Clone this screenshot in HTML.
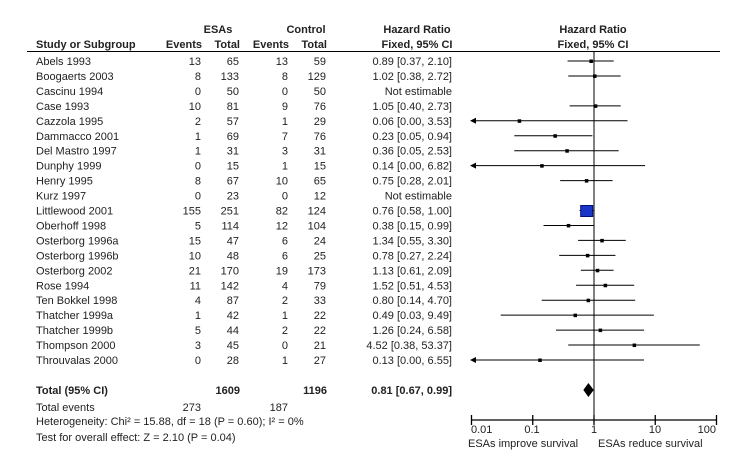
<!DOCTYPE html>
<html><head><style>
body{margin:0;background:#fff;}
svg text{font-family:"Liberation Sans",Arial,sans-serif;font-size:11px;fill:#222;}
</style></head><body>
<svg width="740" height="470" xmlns="http://www.w3.org/2000/svg" id="s">
<text x="218" y="33" text-anchor="middle" font-weight="bold">ESAs</text>
<text x="306" y="33" text-anchor="middle" font-weight="bold">Control</text>
<text x="417" y="33" text-anchor="middle" font-weight="bold">Hazard  Ratio</text>
<text x="593" y="33" text-anchor="middle" font-weight="bold">Hazard Ratio</text>
<text x="36" y="48" font-weight="bold">Study or Subgroup</text>
<text x="202" y="48" text-anchor="end" font-weight="bold">Events</text>
<text x="240" y="48" text-anchor="end" font-weight="bold">Total</text>
<text x="289" y="48" text-anchor="end" font-weight="bold">Events</text>
<text x="327" y="48" text-anchor="end" font-weight="bold">Total</text>
<text x="417" y="48" text-anchor="middle" font-weight="bold">Fixed, 95% CI</text>
<text x="593" y="48" text-anchor="middle" font-weight="bold">Fixed, 95% CI</text>
<line x1="27" y1="51.5" x2="720" y2="51.5" stroke="#000" stroke-width="1"/>
<line x1="594" y1="52" x2="594" y2="420" stroke="#000" stroke-width="1"/>
<g id="rows"></g>
<text x="36" y="394" font-weight="bold">Total (95% CI)</text>
<text x="240" y="394" text-anchor="end" font-weight="bold">1609</text>
<text x="327" y="394" text-anchor="end" font-weight="bold">1196</text>
<text x="452" y="394" text-anchor="end" font-weight="bold">0.81 [0.67, 0.99]</text>
<text x="36" y="411">Total events</text>
<text x="201" y="411" text-anchor="end">273</text>
<text x="288" y="411" text-anchor="end">187</text>
<text x="36" y="425">Heterogeneity: Chi² = 15.88, df = 18 (P = 0.60); I² = 0%</text>
<text x="36" y="441">Test for overall effect: Z = 2.10 (P = 0.04)</text>
<text x="471" y="433" text-anchor="start">0.01</text>
<text x="532" y="433" text-anchor="middle">0.1</text>
<text x="594" y="433" text-anchor="middle">1</text>
<text x="655" y="433" text-anchor="middle">10</text>
<text x="716" y="433" text-anchor="end">100</text>
<text x="468" y="447" fill="#444">ESAs improve survival</text>
<text x="598" y="447" fill="#444">ESAs reduce survival</text>
</svg>
<script>
var d=[["Abels 1993",13,65,13,59,0.89,0.37,2.10],["Boogaerts 2003",8,133,8,129,1.02,0.38,2.72],["Cascinu 1994",0,50,0,50],["Case 1993",10,81,9,76,1.05,0.40,2.73],["Cazzola 1995",2,57,1,29,0.06,0.00,3.53],["Dammacco 2001",1,69,7,76,0.23,0.05,0.94],["Del Mastro 1997",1,31,3,31,0.36,0.05,2.53],["Dunphy 1999",0,15,1,15,0.14,0.00,6.82],["Henry 1995",8,67,10,65,0.75,0.28,2.01],["Kurz 1997",0,23,0,12],["Littlewood 2001",155,251,82,124,0.76,0.58,1.00],["Oberhoff 1998",5,114,12,104,0.38,0.15,0.99],["Osterborg 1996a",15,47,6,24,1.34,0.55,3.30],["Osterborg 1996b",10,48,6,25,0.78,0.27,2.24],["Osterborg 2002",21,170,19,173,1.13,0.61,2.09],["Rose 1994",11,142,4,79,1.52,0.51,4.53],["Ten Bokkel 1998",4,87,2,33,0.80,0.14,4.70],["Thatcher 1999a",1,42,1,22,0.49,0.03,9.49],["Thatcher 1999b",5,44,2,22,1.26,0.24,6.58],["Thompson 2000",3,45,0,21,4.52,0.38,53.37],["Throuvalas 2000",0,28,1,27,0.13,0.00,6.55]];
var NS="http://www.w3.org/2000/svg",g=document.getElementById("rows");
function X(v){return 594+61.25*Math.log10(v);}
function el(t,a,txt){var e=document.createElementNS(NS,t);for(var k in a)e.setAttribute(k,a[k]);if(txt!=null)e.textContent=txt;g.appendChild(e);return e;}
function f(v){return v.toFixed(2);}
d.forEach(function(r,i){var y=61+i*14.95,ty=y+4;
el("text",{x:36,y:ty},r[0]);
el("text",{x:201,y:ty,"text-anchor":"end"},r[1]);
el("text",{x:239,y:ty,"text-anchor":"end"},r[2]);
el("text",{x:288,y:ty,"text-anchor":"end"},r[3]);
el("text",{x:326,y:ty,"text-anchor":"end"},r[4]);
if(r.length<6){el("text",{x:452,y:ty,"text-anchor":"end"},"Not estimable");return;}
el("text",{x:452,y:ty,"text-anchor":"end"},f(r[5])+" ["+f(r[6])+", "+f(r[7])+"]");
var lo=r[6]<=0.01?473:X(r[6]),hi=X(r[7]);
el("line",{x1:lo,y1:y,x2:hi,y2:y,stroke:"#000","stroke-width":1});
if(r[6]<=0.01)el("polygon",{points:"470,"+y+" 476,"+(y-3)+" 476,"+(y+3),fill:"#000"});
var cx=X(r[5]);
if(i==10)el("rect",{x:cx-6,y:y-5,width:12,height:11,fill:"#1a35c8",stroke:"#001070"});
else el("rect",{x:cx-1.5,y:y-1.5,width:3.5,height:3.5,fill:"#000"});
});
el("polygon",{points:X(0.67)+",390 "+X(0.81)+",383 "+X(0.99)+",390 "+X(0.81)+",397",fill:"#000"});
var ax="M471 420H716";[0.01,0.1,1,10,100].forEach(function(v){var x=X(v);ax+=" M"+x+" 415V425";});
el("path",{d:ax,stroke:"#000","stroke-width":1.3,fill:"none"});
</script>
</body></html>
